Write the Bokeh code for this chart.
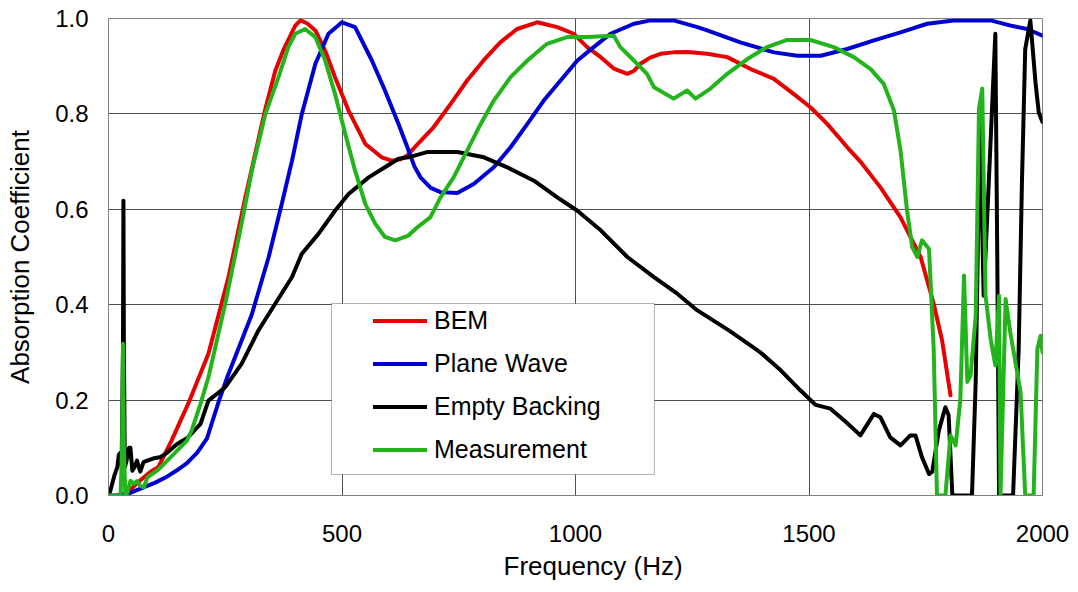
from bokeh.plotting import figure
from bokeh.models import Range1d, FixedTicker, NumeralTickFormatter, BoxAnnotation, Title
from bokeh.embed import file_html
from bokeh.resources import INLINE

# ---------------- data ----------------
bem_f = [30, 40, 60, 90, 107, 135, 171, 214, 257, 293, 335, 357, 375, 390, 400, 411,
         425, 443, 465, 485, 514, 550, 585, 606, 625, 640, 665, 696, 732, 768, 803,
         839, 875, 918, 961, 996, 1025, 1054, 1082, 1111, 1125, 1139, 1160, 1182,
         1210, 1240, 1282, 1325, 1375, 1424, 1467, 1503, 1539, 1582, 1610, 1653,
         1696, 1739, 1767, 1785, 1803]
bem_a = [0.0, 0.005, 0.025, 0.05, 0.06, 0.115, 0.193, 0.297, 0.458, 0.625, 0.807,
         0.89, 0.935, 0.965, 0.985, 0.996, 0.99, 0.975, 0.93, 0.877, 0.807, 0.737,
         0.709, 0.702, 0.705, 0.713, 0.74, 0.772, 0.82, 0.87, 0.912, 0.95, 0.978,
         0.992, 0.982, 0.968, 0.94, 0.919, 0.895, 0.884, 0.89, 0.905, 0.918, 0.926,
         0.929, 0.93, 0.926, 0.919, 0.894, 0.874, 0.842, 0.814, 0.779, 0.730, 0.70,
         0.646, 0.583, 0.50, 0.402, 0.325, 0.21]

pw_f = [0, 15, 45, 75, 100, 126, 150, 168, 190, 211, 237, 255, 271, 307, 343, 371,
        393, 414, 443, 471, 500, 528, 564, 592, 621, 640, 655, 668, 690, 711, 747,
        782, 825, 861, 897, 932, 968, 1004, 1039, 1075, 1125, 1161, 1210, 1261,
        1282, 1353, 1425, 1475, 1525, 1582, 1639, 1696, 1753, 1810, 1889, 1932,
        1967, 2000]
pw_a = [0.0, 0.0, 0.005, 0.017, 0.027, 0.04, 0.055, 0.068, 0.09, 0.12, 0.2, 0.25,
        0.29, 0.38, 0.50, 0.611, 0.702, 0.80, 0.905, 0.968, 0.992, 0.982, 0.912,
        0.849, 0.779, 0.73, 0.69, 0.667, 0.645, 0.636, 0.634, 0.653, 0.688, 0.73,
        0.779, 0.828, 0.87, 0.912, 0.94, 0.968, 0.989, 0.996, 0.996, 0.982, 0.975,
        0.95, 0.929, 0.922, 0.922, 0.936, 0.954, 0.971, 0.989, 0.996, 0.996, 0.985,
        0.978, 0.964]

eb_f = [0, 4, 12, 19, 22, 26, 28, 31, 32, 33, 35, 38, 44, 47, 51, 56, 61, 68, 75,
        83, 97, 110, 126, 147, 168, 197, 214, 250, 285, 321, 357, 393, 414, 450,
        485, 514, 557, 592, 621, 642, 682, 747, 804, 854, 911, 961, 1004, 1054,
        1111, 1168, 1218, 1261, 1330, 1396, 1440, 1482, 1514, 1546, 1578, 1610,
        1639, 1653, 1674, 1696, 1717, 1728, 1742, 1757, 1764, 1778, 1792, 1799,
        1807, 1849, 1857, 1862, 1866, 1874, 1885, 1899, 1903, 1907, 1937,
        1949, 1956, 1963, 1974, 1985, 1992, 2000]
eb_a = [0.0, 0.01, 0.04, 0.06, 0.085, 0.09, 0.06, 0.3, 0.618, 0.3, 0.06, 0.07, 0.1,
        0.1, 0.052, 0.06, 0.073, 0.05, 0.07, 0.073, 0.078, 0.08, 0.09, 0.108, 0.12,
        0.15, 0.199, 0.227, 0.276, 0.346, 0.402, 0.458, 0.507, 0.549, 0.597, 0.632,
        0.667, 0.688, 0.706, 0.709, 0.72, 0.72, 0.709, 0.688, 0.66, 0.625, 0.597,
        0.556, 0.50, 0.458, 0.423, 0.388, 0.345, 0.30, 0.262, 0.22, 0.19, 0.182,
        0.155, 0.126, 0.171, 0.164, 0.122, 0.105, 0.126, 0.126, 0.08, 0.045, 0.05,
        0.136, 0.185, 0.168, 0.0, 0.0, 0.24, 0.55, 0.78, 0.419, 0.657, 0.968, 0.518,
        0.0, 0.0, 0.307, 0.657, 0.936, 0.996, 0.866, 0.803, 0.783]

ms_f = [0, 26, 29, 31, 33, 36, 40, 47, 54, 61, 68, 76, 83, 104, 126, 147, 168, 178,
        197, 214, 250, 285, 307, 336, 364, 385, 400, 421, 443, 464, 485, 507, 528,
        550, 571, 592, 614, 642, 661, 689, 711, 739, 768, 797, 825, 861, 897, 939,
        982, 1025, 1082, 1096, 1125, 1153, 1168, 1210, 1239, 1257, 1289, 1325,
        1368, 1410, 1453, 1503, 1553, 1596, 1632, 1660, 1682, 1696, 1710, 1721,
        1732, 1742, 1757, 1767, 1774, 1792, 1803, 1814, 1824, 1832, 1839, 1846,
        1857, 1864, 1871, 1878, 1889, 1899, 1907, 1910, 1914, 1921, 1931, 1953,
        1963, 1981, 1989, 1996, 2000]
ms_a = [0.0, 0.0, 0.1, 0.318, 0.1, 0.0, 0.004, 0.031, 0.025, 0.03, 0.02, 0.017,
        0.038, 0.052, 0.073, 0.094, 0.115, 0.136, 0.192, 0.248, 0.402, 0.57, 0.681,
        0.80, 0.877, 0.94, 0.968, 0.978, 0.961, 0.912, 0.842, 0.758, 0.681, 0.611,
        0.57, 0.542, 0.535, 0.545, 0.562, 0.583, 0.625, 0.667, 0.723, 0.779, 0.828,
        0.877, 0.912, 0.947, 0.961, 0.961, 0.964, 0.94, 0.912, 0.884, 0.856, 0.832,
        0.849, 0.832, 0.853, 0.884, 0.915, 0.94, 0.955, 0.955, 0.94, 0.919, 0.894,
        0.863, 0.807, 0.723, 0.597, 0.521, 0.50, 0.535, 0.517, 0.307, 0.0, 0.0,
        0.126, 0.105, 0.2, 0.461, 0.238, 0.252, 0.377, 0.811, 0.853, 0.419, 0.328,
        0.273, 0.419, 0.0, 0.15, 0.412, 0.342, 0.217, 0.0, 0.0, 0.307, 0.335, 0.30]

x_ticks = [0, 500, 1000, 1500, 2000]
y_ticks = [0.0, 0.2, 0.4, 0.6, 0.8, 1.0]
series_names = ["BEM", "Plane Wave", "Empty Backing", "Measurement"]
series_colors = ["#E60000", "#0000D2", "#000000", "#22B41A"]
x_title = "Frequency (Hz)"
y_title = "Absorption Coefficient"

FONT = "Liberation Sans"

p = figure(width=1078, height=592, output_backend="svg", toolbar_location=None,
           x_range=Range1d(0, 2000), y_range=Range1d(0, 1.0),
           min_border_left=108, min_border_right=36, min_border_top=18,
           min_border_bottom=97)
p.background_fill_color = "white"
p.border_fill_color = "white"
p.outline_line_color = "#808080"
p.outline_line_width = 1

# legend box (drawn before the legend so it sits underneath it)
box = BoxAnnotation(left=477.5, right=1169, bottom=0.044, top=0.4025,
                    fill_color="white", fill_alpha=1.0,
                    line_color="black", line_width=1)
p.add_layout(box)

data = [(bem_f, bem_a), (pw_f, pw_a), (eb_f, eb_a), (ms_f, ms_a)]
for (fx, fy), name, col in zip(data, series_names, series_colors):
    p.line(fx, fy, line_color=col, line_width=4, legend_label=name,
           line_join="round", line_cap="round")

# axes
p.xaxis.ticker = FixedTicker(ticks=x_ticks)
p.yaxis.ticker = FixedTicker(ticks=y_ticks)
p.yaxis.formatter = NumeralTickFormatter(format="0.0")
p.xaxis.formatter = NumeralTickFormatter(format="0")
for ax in (p.xaxis[0], p.yaxis[0]):
    ax.major_tick_in = 0
    ax.major_tick_out = 0
    ax.minor_tick_in = 0
    ax.minor_tick_out = 0
    ax.axis_line_color = "#808080"
    ax.major_label_text_font = FONT
    ax.major_label_text_font_size = "24px"
    ax.major_label_text_color = "black"

p.xaxis.major_label_standoff = 29
p.yaxis.major_label_standoff = 20

# y title on the axis itself
p.yaxis.axis_label = y_title
p.yaxis.axis_label_text_font = FONT
p.yaxis.axis_label_text_font_size = "26px"
p.yaxis.axis_label_text_font_style = "normal"
p.yaxis.axis_label_text_color = "black"
p.yaxis.axis_label_standoff = 17

# x title as a side title so it can sit off-centre like the reference
xt = Title(text=x_title, align="left", offset=395, text_font=FONT,
           text_font_size="26px", text_font_style="normal", text_color="black",
           standoff=8, text_line_height=1.4)
p.add_layout(xt, "below")

# grid
p.xgrid.ticker = FixedTicker(ticks=[500, 1000, 1500])
p.ygrid.ticker = FixedTicker(ticks=[0.2, 0.4, 0.6, 0.8])
p.xgrid.grid_line_color = "#505050"
p.ygrid.grid_line_color = "#505050"
p.xgrid.grid_line_width = 1
p.ygrid.grid_line_width = 1

# legend
lg = p.legend[0]
lg.location = (265, 24)
lg.padding = 0
lg.margin = 0
lg.spacing = 0
lg.label_height = 43
lg.glyph_height = 43
lg.glyph_width = 54
lg.label_standoff = 7
lg.background_fill_alpha = 0
lg.border_line_alpha = 0
lg.label_text_font = FONT
lg.label_text_font_size = "25px"
lg.label_text_color = "black"

open("out.html", "w").write(file_html(p, INLINE))
